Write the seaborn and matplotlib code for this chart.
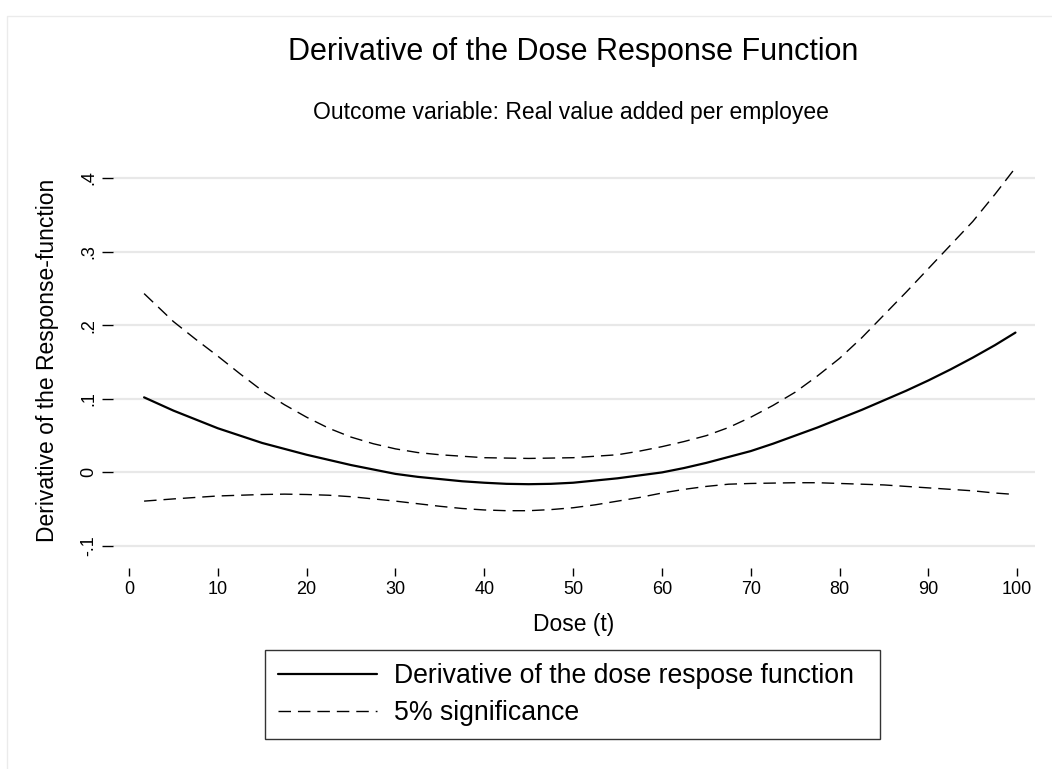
import pandas as pd
import matplotlib.pyplot as plt
import seaborn as sns
from matplotlib.lines import Line2D
from matplotlib.patches import Rectangle

# values
dose = [1.7, 5, 7.5, 10, 12.5, 15, 17.5, 20, 22.5, 25, 27.5, 30, 32.5, 35, 37.5, 40, 42.5, 45, 47.5, 50,
        52.5, 55, 57.5, 60, 62.5, 65, 67.5, 70, 72.5, 75, 77.5, 80, 82.5, 85, 87.5, 90, 92.5, 95, 97.5, 99.8]
derivative = [0.102, 0.084, 0.072, 0.060, 0.050, 0.040, 0.032, 0.024, 0.017, 0.010,
              0.004, -0.002, -0.006, -0.009, -0.012, -0.014, -0.0155, -0.016, -0.0155, -0.014,
              -0.011, -0.008, -0.004, 0.000, 0.006, 0.013, 0.021, 0.029, 0.039, 0.050,
              0.061, 0.073, 0.085, 0.098, 0.111, 0.125, 0.140, 0.156, 0.173, 0.190]
upper_ci = [0.243, 0.205, 0.181, 0.158, 0.134, 0.111, 0.092, 0.075, 0.060, 0.048,
            0.039, 0.032, 0.027, 0.024, 0.022, 0.020, 0.0195, 0.019, 0.0195, 0.020,
            0.022, 0.024, 0.029, 0.035, 0.042, 0.050, 0.061, 0.075, 0.091, 0.109,
            0.131, 0.155, 0.183, 0.214, 0.245, 0.277, 0.309, 0.341, 0.378, 0.414]
lower_ci = [-0.039, -0.036, -0.034, -0.032, -0.031, -0.030, -0.0295, -0.030, -0.031, -0.033,
            -0.036, -0.039, -0.0425, -0.046, -0.049, -0.051, -0.052, -0.052, -0.0505, -0.048,
            -0.044, -0.039, -0.034, -0.028, -0.023, -0.019, -0.016, -0.015, -0.0145, -0.014,
            -0.014, -0.015, -0.016, -0.017, -0.019, -0.021, -0.023, -0.025, -0.028, -0.030]

x_ticks = [0, 10, 20, 30, 40, 50, 60, 70, 80, 90, 100]
y_ticks = [-0.1, 0, 0.1, 0.2, 0.3, 0.4]
y_tick_labels = ["-.1", "0", ".1", ".2", ".3", ".4"]

title = "Derivative of the Dose Response Function"
subtitle = "Outcome variable: Real value added per employee"
legend_labels = ["Derivative of the dose respose function", "5% significance"]


def plot_dose_response():
    sns.set_style("white")
    plt.rcParams["font.family"] = ["Liberation Sans", "DejaVu Sans"]
    plt.rcParams["text.color"] = "black"
    plt.rcParams["axes.labelcolor"] = "black"
    plt.rcParams["xtick.color"] = "black"
    plt.rcParams["ytick.color"] = "black"

    ci = pd.DataFrame({
        "dose": dose + dose,
        "value": upper_ci + lower_ci,
        "bound": ["upper"] * len(dose) + ["lower"] * len(dose),
    })

    fig = plt.figure(figsize=(10.52, 7.69), dpi=100)
    ax = fig.add_axes([113 / 1052, 1 - 555 / 769, 922 / 1052, 390 / 769])

    dash = (0, (9, 5))
    sns.lineplot(x=dose, y=derivative, color="black", lw=1.6, ax=ax)
    sns.lineplot(data=ci, x="dose", y="value", units="bound", estimator=None,
                 color="black", lw=1.0, linestyle=dash, ax=ax)

    ax.set_xlim(-1.8, 102.0)
    ax.set_ylim(-0.1122, 0.4177)
    ax.set_xticks(x_ticks)
    ax.set_yticks(y_ticks)
    ax.set_yticklabels(y_tick_labels, rotation=90, va="center")

    for s in ax.spines.values():
        s.set_visible(False)
    ax.spines["bottom"].set_position(("outward", 9))

    ax.yaxis.grid(True, color="#E8E8E8", lw=1.6)
    ax.xaxis.grid(False)
    ax.tick_params(axis="x", bottom=True, length=6, width=1, color="black", pad=4, labelsize=13)
    ax.tick_params(axis="y", left=True, length=8, width=1, color="black", pad=3, labelsize=13)

    ax.set_xlabel("Dose (t)", fontsize=16.5, va="center")
    ax.xaxis.set_label_coords(0.5, -(625 - 555) / 390)
    ax.set_ylabel("Derivative of the Response-function", fontsize=16.5, va="center", ha="center")
    ax.yaxis.set_label_coords(-(113 - 48) / 922, 0.5)

    fig.text(573 / 1052, 1 - 52 / 769, title, fontsize=22, ha="center", va="center")
    fig.text(571 / 1052, 1 - 113 / 769, subtitle, fontsize=16.5, ha="center", va="center")

    handles = [Line2D([], [], color="black", lw=1.6),
               Line2D([], [], color="black", lw=1.0, linestyle=dash)]
    leg = fig.legend(handles, legend_labels, loc="center", mode="expand",
                     bbox_to_anchor=(265 / 1052, 1 - 738 / 769, 615 / 1052, 87 / 769),
                     borderaxespad=0, fontsize=19.2, handlelength=3.7, handletextpad=0.62,
                     borderpad=0.5, labelspacing=0.42, frameon=True, fancybox=False)
    leg.get_frame().set_edgecolor("black")
    leg.get_frame().set_linewidth(1.0)

    # light outer frame of the graph region
    fig.patches.append(Rectangle((7 / 1052, -0.1), 1.2, 1.1 - 16 / 769, transform=fig.transFigure,
                                 fill=False, edgecolor="#EBEBEB", lw=1.0))

    fig.savefig("out.png", dpi=100)
    print("Saved out.png", flush=True)


if __name__ == "__main__":
    plot_dose_response()
